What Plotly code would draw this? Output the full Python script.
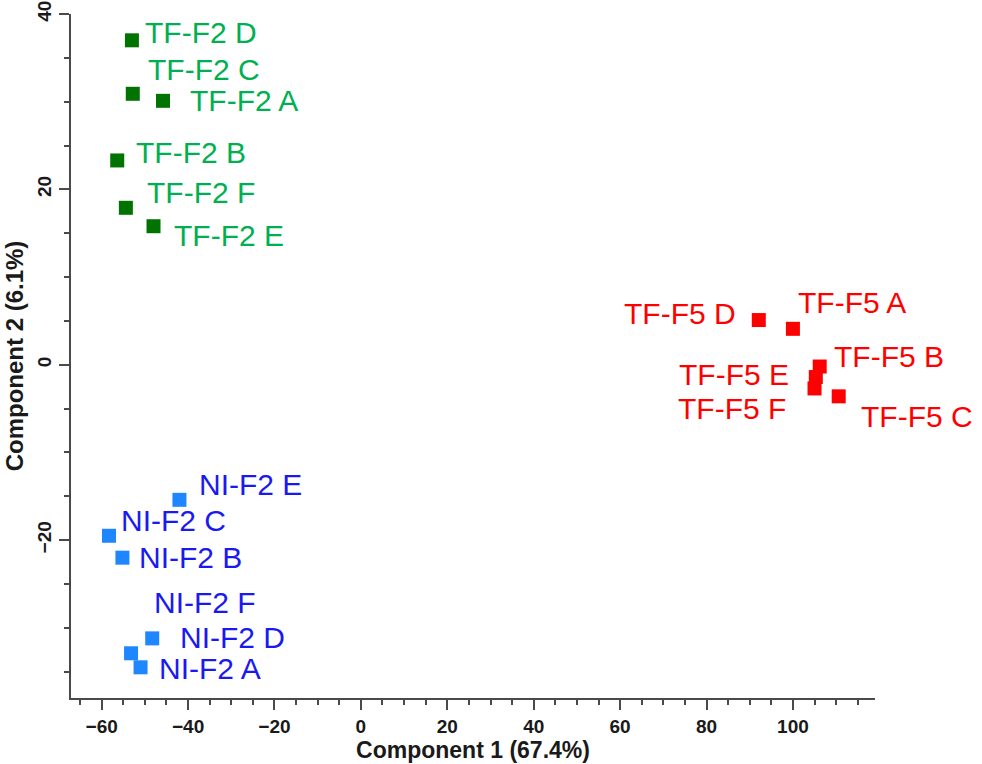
import plotly.graph_objects as go

# ---- data ----
green_names = ["TF-F2 D", "TF-F2 C", "TF-F2 A", "TF-F2 B", "TF-F2 F", "TF-F2 E"]
green_x = [-53.0, -52.8, -45.8, -56.4, -54.4, -48.0]
green_y = [37.0, 30.9, 30.1, 23.3, 17.9, 15.8]

red_names = ["TF-F5 D", "TF-F5 A", "TF-F5 B", "TF-F5 E", "TF-F5 F", "TF-F5 C"]
red_x = [92.1, 100.0, 106.2, 105.3, 105.0, 110.6]
red_y = [5.1, 4.1, -0.2, -1.4, -2.7, -3.6]

blue_names = ["NI-F2 E", "NI-F2 C", "NI-F2 B", "NI-F2 D", "NI-F2 F", "NI-F2 A"]
blue_x = [-42.0, -58.3, -55.2, -48.3, -53.2, -51.0]
blue_y = [-15.4, -19.5, -22.0, -31.2, -32.9, -34.5]

x_title = "Component 1 (67.4%)"
y_title = "Component 2 (6.1%)"

# ---- label placement (pixel offsets relative to each marker) ----
green_off = [(12, 8, "left"), (14, 24, "left"), (26, 0, "left"), (18, 8, "left"), (20, 15, "left"), (19, -9, "left")]
red_off = [(-22, 7, "right"), (4, 26, "left"), (13, 10, "left"), (-26, 3, "right"), (-28, -20, "right"), (21, -20, "left")]
blue_off = [(19, 15, "left"), (11, 15, "left"), (16, 0, "left"), (27, 1, "left"), (22, 51, "left"), (17, -1, "left")]

groups = [
    (green_names, green_x, green_y, green_off, "#007300", "#00B050"),
    (red_names, red_x, red_y, red_off, "#FF0000", "#FF0000"),
    (blue_names, blue_x, blue_y, blue_off, "#1E86FF", "#1A1AF0"),
]

fig = go.Figure()
annotations = []
for names, xs, ys, offs, mcol, tcol in groups:
    fig.add_trace(go.Scatter(
        x=xs, y=ys, mode="markers",
        marker=dict(symbol="square", size=14, color=mcol),
        showlegend=False, hoverinfo="skip",
    ))
    for n, x, y, (dx, dy, anc) in zip(names, xs, ys, offs):
        annotations.append(dict(
            x=x, y=y, xref="x", yref="y", text=n, showarrow=False,
            xanchor=anc, yanchor="middle", xshift=dx, yshift=dy,
            borderpad=0,
            font=dict(family="Liberation Sans, Arial", size=30, color=tcol),
        ))

axis_common = dict(
    showgrid=False, zeroline=False, showline=True, linecolor="#4a4a4a", linewidth=2,
    ticks="outside", ticklen=10, tickwidth=1.5, tickcolor="#4a4a4a",
    tickfont=dict(family="Liberation Sans, Arial", size=19, color="#1a1a1a", weight="bold"),
    mirror=False, automargin=False,
)

fig.update_layout(
    width=982, height=764,
    margin=dict(l=71, r=107, t=14, b=66),
    paper_bgcolor="white", plot_bgcolor="white",
    annotations=annotations,
    xaxis=dict(
        range=[-67.1, 119.0], dtick=20, tick0=0,
        minor=dict(dtick=5, ticks="outside", ticklen=5, tickcolor="#4a4a4a", tickwidth=1.5),
        title=dict(text=x_title, standoff=2,
                   font=dict(family="Liberation Sans, Arial", size=23, color="#1a1a1a", weight="bold")),
        **axis_common,
    ),
    yaxis=dict(
        range=[-38.0, 40.0], dtick=20, tick0=0, tickangle=-90,
        minor=dict(dtick=5, ticks="outside", ticklen=5, tickcolor="#4a4a4a", tickwidth=1.5),
        title=dict(text=y_title, standoff=4,
                   font=dict(family="Liberation Sans, Arial", size=24, color="#1a1a1a", weight="bold")),
        **axis_common,
    ),
)

fig.write_html("out.html")
